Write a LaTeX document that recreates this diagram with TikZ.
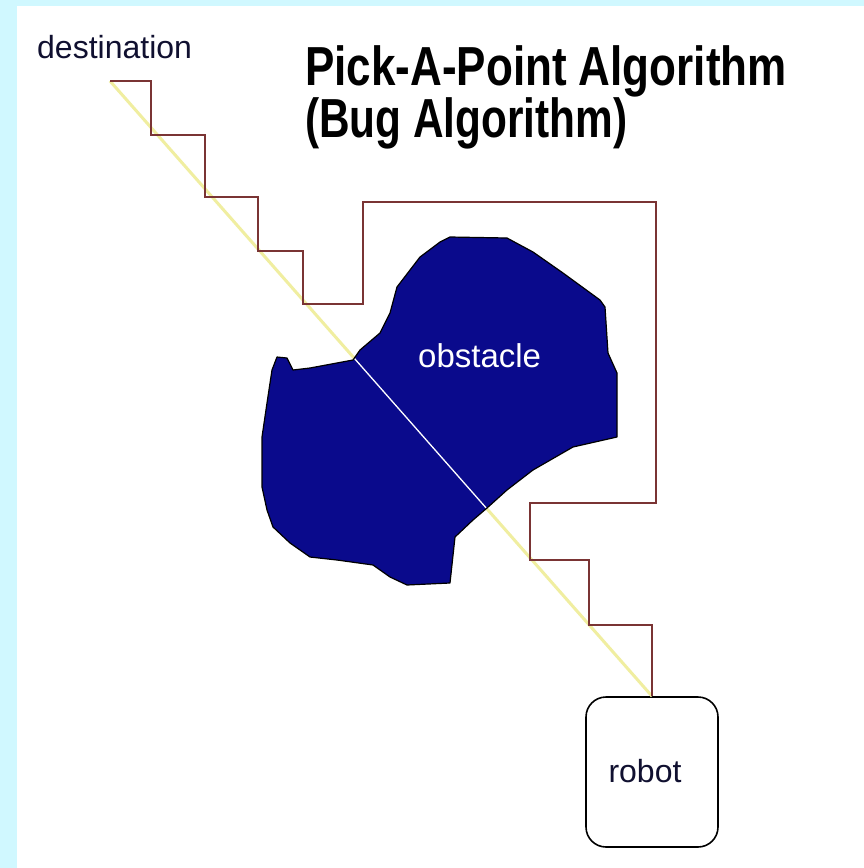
\documentclass[tikz,border=0pt]{standalone}
\usepackage{fontspec}
\usepackage{graphicx}
\setmainfont{Liberation Sans}
\definecolor{bgcyan}{RGB}{208,248,255}
\definecolor{pathred}{RGB}{122,52,52}
\definecolor{lineyellow}{RGB}{240,238,160}
\definecolor{obsblue}{RGB}{10,10,140}
\definecolor{textnavy}{RGB}{16,16,48}
\tikzset{
  lbl/.style={inner sep=0pt, anchor=base west},
  route/.style={draw=pathred, line width=1.8pt, line join=miter},
  direct/.style={draw=lineyellow, line width=3pt},
  robotbox/.style={draw=black, line width=1.6pt, rounded corners=20pt, minimum width=132pt, minimum height=150pt, inner sep=0pt, fill=white},
  obstacle/.style={fill=obsblue, draw=black, line width=1.2pt, line join=round}
}
\begin{document}
\begin{tikzpicture}[x=1pt,y=-1pt]
\useasboundingbox (0,0) rectangle (864,868);
\fill[bgcyan] (0,0) rectangle (864,868);
\fill[white] (17,6) rectangle (864,868);

% title
\node[lbl] (title1) at (305,85) {\fontsize{55}{55}\selectfont\bfseries\scalebox{0.8}[1]{Pick-A-Point Algorithm}};
\node[lbl] (title2) at (305,137) {\fontsize{55}{55}\selectfont\bfseries\scalebox{0.77}[1]{(Bug Algorithm)}};

% destination
\node[lbl, text=textnavy] (destlabel) at (37,58) {\fontsize{32}{32}\selectfont destination};
\coordinate (dest) at (110,81);

% robot
\node[robotbox] (robot) at (652,772) {};
\node[lbl, text=textnavy, anchor=base] (robotlabel) at (645,782) {\fontsize{32}{32}\selectfont robot};

% direct line
\draw[direct] (dest) -- (robot.north);

% obstacle
\def\obspath{(353,360) -- (360,350) -- (380,333) -- (390,313) -- (397,287) -- (420,257) -- (440,242) -- (450,237) -- (507,238) -- (533,252) -- (563,273) -- (600,300) -- (605,307) -- (608,353) -- (617,373) -- (617,437) -- (573,447) -- (533,470) -- (507,490) -- (487,508) -- (473,520) -- (455,537) -- (450,583) -- (407,585) -- (390,577) -- (373,565) -- (337,560) -- (310,557) -- (290,543) -- (273,527) -- (267,510) -- (262,487) -- (262,437) -- (267,403) -- (272,370) -- (277,357) -- (287,358) -- (293,370) -- (310,368) -- cycle}
\fill[obsblue] \obspath;
\begin{scope}
\clip \obspath;
\draw[white, line width=1.3pt] (dest) -- (robot.north);
\end{scope}
\draw[obstacle, fill=none] \obspath;
\node[lbl, text=white] (obslabel) at (418,367) {\fontsize{33}{33}\selectfont obstacle};

% route taken by the bug
\draw[route] (dest) -- (151,81) -- (151,135) -- (205,135) -- (205,197) -- (258,197) -- (258,251) -- (303,251) -- (303,304) -- (363,304) -- (363,202) -- (656,202) -- (656,503) -- (530,503) -- (530,560) -- (589,560) -- (589,625) -- (652,625) -- (robot.north);
\end{tikzpicture}
\end{document}
